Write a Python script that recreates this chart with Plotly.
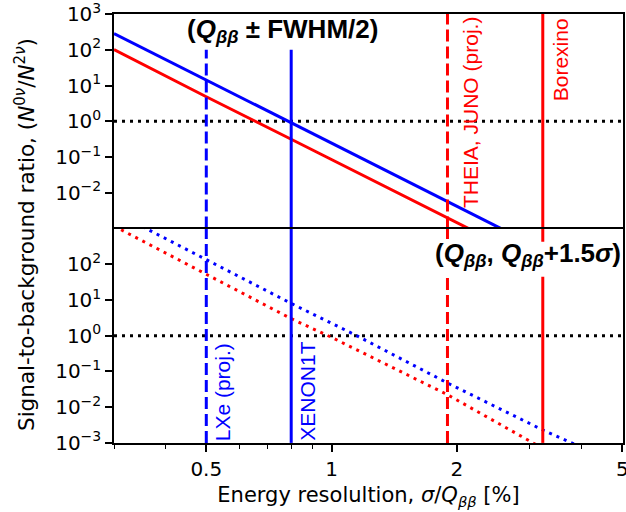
import numpy as np
import plotly.graph_objects as go
from plotly.subplots import make_subplots

# ---- data ----
# top panel (Q_bb +/- FWHM/2), solid
top_blue_x = [0.3, 0.5, 0.8, 1.2, 1.9, 2.6]
top_blue_y = [287, 14.2, 0.91, 0.086, 5.7e-3, 9.0e-4]
top_red_x = [0.3, 0.5, 0.8, 1.2, 1.9, 2.2]
top_red_y = [102, 4.87, 0.314, 0.029, 2.0e-3, 8.4e-4]
# bottom panel (Q_bb, Q_bb+1.5 sigma), dotted
bot_blue_x = [0.3, 0.5, 0.8, 1.15, 1.9, 3.22, 3.9]
bot_blue_y = [2900, 138, 8.0, 1.0, 0.0475, 2.3e-3, 8.5e-4]
bot_red_x = [0.3, 0.5, 0.8, 1.0, 1.9, 3.1]
bot_red_y = [1170, 52, 3.0, 0.9, 0.0223, 9.0e-4]

# experiments (resolution in %)
exp_names = ["LXe (proj.)", "XENON1T", "THEIA, JUNO (proj.)", "Borexino"]
exp_res = [0.5, 0.8, 1.9, 3.22]
exp_colors = ["#0000ff", "#0000ff", "#ff0000", "#ff0000"]
exp_dash = ["12px,5px", "solid", "12px,5px", "solid"]
exp_top_ymax = [100, 100, 1000, 1000]

x_range = [0.3, 5.02]
y_range = [1e-3, 1e3]
x_major = [0.5, 1, 2, 5]
x_major_text = ["0.5", "1", "2", "5"]
x_minor = [0.3, 0.4, 0.6, 0.7, 0.8, 0.9, 3, 4]
top_yticks = [1e-2, 1e-1, 1e0, 1e1, 1e2, 1e3]
top_ytext = ["10<sup>\u22122</sup>", "10<sup>\u22121</sup>", "10<sup>0</sup>",
             "10<sup>1</sup>", "10<sup>2</sup>", "10<sup>3</sup>"]
bot_yticks = [1e-3, 1e-2, 1e-1, 1e0, 1e1, 1e2]
bot_ytext = ["10<sup>\u22123</sup>", "10<sup>\u22122</sup>", "10<sup>\u22121</sup>",
             "10<sup>0</sup>", "10<sup>1</sup>", "10<sup>2</sup>"]

BLUE = "#0000ff"
RED = "#ff0000"

fig = make_subplots(rows=2, cols=1, shared_xaxes=True, vertical_spacing=0)

# horizontal unity lines
for r in (1, 2):
    fig.add_trace(go.Scatter(x=x_range, y=[1, 1], mode="lines",
                             line=dict(color="black", width=3, dash="3px,5px"),
                             showlegend=False, hoverinfo="skip"), row=r, col=1)

# curves
fig.add_trace(go.Scatter(x=top_blue_x, y=top_blue_y, mode="lines",
                         line=dict(color=BLUE, width=3), showlegend=False), row=1, col=1)
fig.add_trace(go.Scatter(x=top_red_x, y=top_red_y, mode="lines",
                         line=dict(color=RED, width=3), showlegend=False), row=1, col=1)
fig.add_trace(go.Scatter(x=bot_blue_x, y=bot_blue_y, mode="lines",
                         line=dict(color=BLUE, width=3, dash="3px,5px"), showlegend=False), row=2, col=1)
fig.add_trace(go.Scatter(x=bot_red_x, y=bot_red_y, mode="lines",
                         line=dict(color=RED, width=3, dash="3px,5px"), showlegend=False), row=2, col=1)

# vertical experiment lines
for name, xv, c, d, ytop in zip(exp_names, exp_res, exp_colors, exp_dash, exp_top_ymax):
    fig.add_trace(go.Scatter(x=[xv, xv], y=[y_range[0], ytop], mode="lines",
                             line=dict(color=c, width=3, dash=d), showlegend=False), row=1, col=1)
    fig.add_trace(go.Scatter(x=[xv, xv], y=list(y_range), mode="lines",
                             line=dict(color=c, width=3, dash=d), showlegend=False), row=2, col=1)

LAB_FONT = "Liberation Sans, Arial, sans-serif"
# rotated experiment labels
label_cfg = {
    "LXe (proj.)": dict(xref="x2", yref="y2 domain", y=0, yanchor="bottom", xshift=16, yshift=1),
    "XENON1T": dict(xref="x2", yref="y2 domain", y=0, yanchor="bottom", xshift=16, yshift=1),
    "THEIA, JUNO (proj.)": dict(xref="x", yref="y domain", y=1, yanchor="top", xshift=23, yshift=-2),
    "Borexino": dict(xref="x", yref="y domain", y=1, yanchor="top", xshift=18, yshift=-3),
}
for name, xv, c in zip(exp_names, exp_res, exp_colors):
    cfg = label_cfg[name]
    fig.add_annotation(text=name, x=np.log10(xv), xanchor="center", textangle=-90,
                       showarrow=False, font=dict(family=LAB_FONT, size=21, color=c),
                       borderpad=0, **cfg)

# white patch behind the lower panel title (hides the vertical lines there)
fig.add_shape(type="rect", xref="paper", x0=0.62, x1=0.99, yref="y2 domain", y0=0.775, y1=0.938,
              fillcolor="white", line=dict(width=0), layer="above")

# panel titles
fig.add_annotation(text="<b>(<i>Q</i><sub><i>\u03b2\u03b2</i></sub> \u00b1 FWHM/2)</b>",
                   xref="paper", x=0.332, yref="y domain", y=0.921,
                   xanchor="center", yanchor="middle", showarrow=False,
                   font=dict(family=LAB_FONT, size=26, color="black"))
fig.add_annotation(text="<b>(<i>Q</i><sub><i>\u03b2\u03b2</i></sub>, <i>Q</i><sub><i>\u03b2\u03b2</i></sub>+1.5<i>\u03c3</i>)</b>",
                   xref="paper", x=0.998, yref="y2 domain", y=0.877,
                   xanchor="right", yanchor="middle", showarrow=False,
                   borderpad=0,
                   font=dict(family=LAB_FONT, size=26, color="black"))

TICK_FONT = dict(family="DejaVu Sans", size=20, color="black")
axis_common = dict(type="log", showgrid=False, zeroline=False, showline=True,
                   linecolor="black", linewidth=1.5, ticklabeloverflow="allow",
                   automargin=False)

fig.update_xaxes(range=[np.log10(x_range[0]), np.log10(x_range[1])], **axis_common)
# top panel: only its top border (the shared border is drawn by the lower panel)
fig.update_xaxes(row=1, col=1, showticklabels=False, ticks="", side="top", mirror=False)
fig.update_xaxes(row=2, col=1, mirror=True, ticks="outside", ticklen=7, tickwidth=1.5, tickcolor="black",
                 tickmode="array", tickvals=x_major, ticktext=x_major_text,
                 tickfont=TICK_FONT,
                 minor=dict(tickmode="array", tickvals=x_minor, ticks="outside",
                            ticklen=4, tickwidth=1.2, tickcolor="black"),
                 title=dict(text="Energy resolultion, <i>\u03c3</i>/<i>Q</i><sub><i>\u03b2\u03b2</i></sub> [%]",
                            font=dict(family="DejaVu Sans", size=21, color="black"),
                            standoff=8))

fig.update_yaxes(ticks="outside", ticklen=7, tickwidth=1.5, tickcolor="black",
                 tickfont=TICK_FONT, tickmode="array", mirror=True, **axis_common)
fig.update_yaxes(row=1, col=1, range=[-3, 3.003], tickvals=top_yticks, ticktext=top_ytext)
fig.update_yaxes(row=2, col=1, range=[-3.003, 3], tickvals=bot_yticks, ticktext=bot_ytext)

fig.add_annotation(text="Signal-to-background ratio, (<i>N</i><sup>0<i>\u03bd</i></sup>/<i>N</i><sup>2<i>\u03bd</i></sup>)",
                   xref="paper", x=-0.175, yref="paper", y=0.487, textangle=-90,
                   xanchor="center", yanchor="middle", showarrow=False,
                   font=dict(family="DejaVu Sans", size=21.5, color="black"))

fig.update_layout(width=626, height=512, margin=dict(l=114, r=3, t=14, b=69),
                  paper_bgcolor="white", plot_bgcolor="white", showlegend=False)

fig.write_html("out.html")
